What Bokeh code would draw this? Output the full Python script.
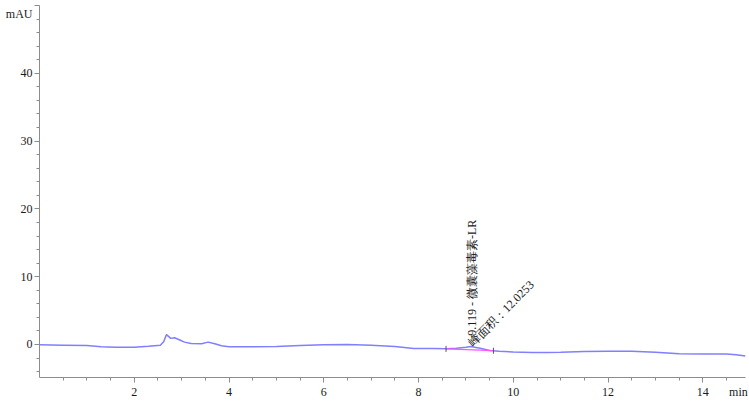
from bokeh.plotting import figure
from bokeh.models import (FixedTicker, LinearAxis, ColumnDataSource, Range1d,
                          CustomLabelingPolicy)
from bokeh.core.properties import value
from bokeh.embed import file_html
from bokeh.resources import INLINE
import math

# ---- data ----
time_min = [0.0, 0.5, 1.0, 1.3, 1.6, 2.0, 2.3, 2.55, 2.62, 2.68, 2.77, 2.85, 2.95,
            3.06, 3.2, 3.42, 3.56, 3.7, 3.84, 4.0, 4.4, 5.0, 5.5, 6.0, 6.5, 7.0,
            7.5, 7.9, 8.3, 8.58, 8.8, 9.0, 9.1, 9.3, 9.5, 9.7, 10.0, 10.4, 10.7,
            11.0, 11.5, 12.0, 12.5, 13.0, 13.5, 14.0, 14.5, 14.7, 14.9]
signal_mau = [-0.05, -0.1, -0.15, -0.35, -0.4, -0.4, -0.25, -0.1, 0.4, 1.45, 0.9,
              1.0, 0.7, 0.35, 0.15, 0.1, 0.35, 0.1, -0.2, -0.35, -0.35, -0.3,
              -0.15, -0.05, 0.0, -0.1, -0.3, -0.6, -0.6, -0.62, -0.55, -0.4, -0.3,
              -0.55, -0.9, -1.0, -1.1, -1.2, -1.2, -1.15, -1.05, -1.0, -1.0, -1.15,
              -1.35, -1.4, -1.4, -1.5, -1.7]
baseline_t = [8.58, 9.58]
baseline_v = [-0.65, -0.92]
peak_rt = 9.119
peak_name = "9.119 - 微囊藻毒素-LR"
peak_area_text = "峰面积：12.0253"
x_major = [2, 4, 6, 8, 10, 12, 14]
y_major = [0, 10, 20, 30, 40, 50]
x_unit = "min"
y_unit = "mAU"

FONT = "Liberation Serif"
GRAY = "#8c8c8c"
TXT = "#1a1a1a"

p = figure(width=749, height=403, output_backend="svg", toolbar_location=None,
           x_range=Range1d(0, 14.9), y_range=Range1d(-4.87, 50),
           min_border_left=39, min_border_right=4, min_border_top=5,
           min_border_bottom=26)
p.grid.visible = False
p.outline_line_color = None
p.background_fill_color = "white"
p.border_fill_color = "white"

x_minor = [i * 0.5 for i in range(1, 30) if (i * 0.5) not in x_major]
y_minor = [v for v in range(-4, 50, 2) if v not in y_major]

hide_all = CustomLabelingPolicy(code="""
    for (const i of indices) { indices.unset(i) }
    return indices
""")

# axes with line + ticks, labels suppressed
xa = p.xaxis[0]
ya = p.yaxis[0]
xa.ticker = FixedTicker(ticks=x_major, minor_ticks=x_minor)
ya.ticker = FixedTicker(ticks=y_major, minor_ticks=y_minor)
for ax in (xa, ya):
    ax.axis_line_color = GRAY
    ax.major_tick_line_color = GRAY
    ax.minor_tick_line_color = GRAY
    ax.major_tick_in = 0
    ax.major_tick_out = 5
    ax.minor_tick_in = 0
    ax.minor_tick_out = 3
    ax.major_label_text_font_size = "0px"
    ax.major_label_standoff = 0
    ax.major_label_policy = hide_all

# label-only axes (carry the unit labels too)
x_unit_pos = 14.75
y_unit_pos = 48.8
xl = LinearAxis(ticker=FixedTicker(ticks=x_major + [x_unit_pos], minor_ticks=[]),
                major_label_overrides={x_unit_pos: x_unit})
yl = LinearAxis(ticker=FixedTicker(ticks=y_major[:-1] + [y_unit_pos], minor_ticks=[]),
                major_label_overrides={y_unit_pos: y_unit})
for ax in (xl, yl):
    ax.axis_line_color = None
    ax.major_tick_line_color = None
    ax.minor_tick_line_color = None
    ax.major_tick_in = 0
    ax.major_tick_out = 0
    ax.minor_tick_in = 0
    ax.minor_tick_out = 0
    ax.major_label_text_font = FONT
    ax.major_label_text_font_size = "12px"
    ax.major_label_text_color = TXT
    ax.major_label_standoff = 2
p.add_layout(xl, "below")
p.add_layout(yl, "left")

src = ColumnDataSource(dict(t=time_min, v=signal_mau))
p.line("t", "v", source=src, line_color="#7f7fff", line_width=1.5)
p.line(baseline_t, baseline_v, line_color="#ff55ff", line_width=1.3)
p.scatter(baseline_t, baseline_v, marker="dash", angle=math.pi / 2, size=6,
          line_color="#555555", line_width=1)

p.text(x=[peak_rt], y=[1.3], text=[peak_name], angle=math.pi / 2,
       text_align="left", text_baseline="middle", text_font=value(FONT),
       text_font_size="12px", text_color=TXT)
p.text(x=[9.2], y=[-0.7], text=[peak_area_text], angle=math.pi / 4,
       text_align="left", text_baseline="bottom", text_font=value(FONT),
       text_font_size="12px", text_color=TXT)

open("out.html", "w").write(file_html(p, INLINE))
